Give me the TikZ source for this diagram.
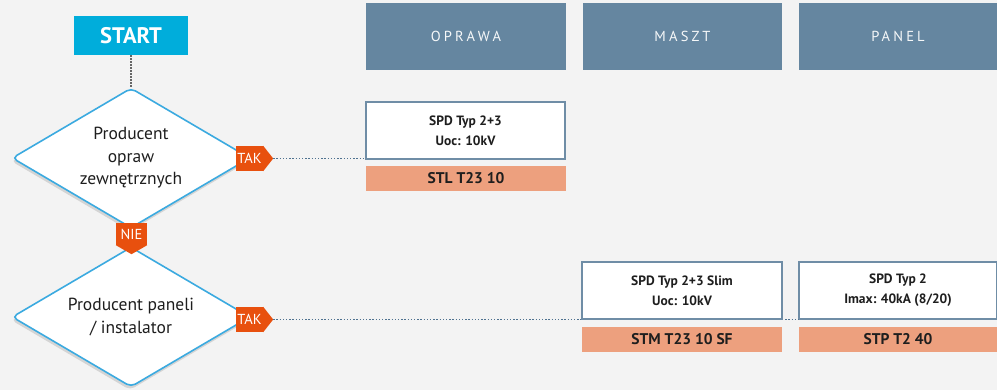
\documentclass[tikz,border=0pt]{standalone}
\usepackage{fontspec}
\setmainfont{PT Sans}
\newfontfamily\hdrfont[LetterSpace=22]{PT Sans}
\usetikzlibrary{shapes.geometric}
\definecolor{bg}{HTML}{F3F3F3}
\definecolor{hdrc}{HTML}{6586A0}
\definecolor{startc}{HTML}{00ADDB}
\definecolor{dstroke}{HTML}{3BAAE0}
\definecolor{tagc}{HTML}{E8500E}
\definecolor{barc}{HTML}{EDA07E}
\definecolor{boxc}{HTML}{6F8DA6}
\definecolor{dotc}{HTML}{4F7290}
\definecolor{txt}{HTML}{1E1E1E}
\tikzset{
  hdr/.style={fill=hdrc, minimum height=67pt, inner sep=0pt, text=white!94!hdrc, font=\hdrfont\fontsize{14.5}{16}\selectfont},
  startbox/.style={fill=startc, minimum width=114pt, minimum height=39pt, inner sep=0pt, text=white, font=\bfseries\fontsize{22.5}{24}\selectfont},
  dia/.style={diamond, aspect=1.7, minimum width=238pt, minimum height=140pt, inner sep=0pt, rounded corners=5pt, align=center, text=txt, font=\fontsize{17.5}{22.5}\selectfont},
  diashadow/.style={diamond, aspect=1.7, minimum width=238pt, minimum height=140pt, inner sep=0pt, rounded corners=5pt, fill=black!17},
  infobox/.style={draw=boxc, line width=1.5pt, fill=white, minimum height=57pt, inner sep=0pt, align=center, text=txt, font=\bfseries\fontsize{13.5}{20}\selectfont},
  bar/.style={fill=barc, minimum height=25pt, inner sep=0pt, text=txt, font=\bfseries\fontsize{15.5}{16}\selectfont},
  tagbox/.style={fill=tagc, inner sep=0pt, text=white, font=\fontsize{14.5}{15}\selectfont},
  dotline/.style={dotc, line width=1.6pt, dash pattern=on 1.4pt off 1.8pt},
  graydot/.style={black!60, line width=1.5pt, dash pattern=on 1.4pt off 1.6pt}
}
\begin{document}
\begin{tikzpicture}[x=1pt,y=-1pt]
\useasboundingbox[fill=bg] (0,0) rectangle (997,390);

% headers
\node[hdr, minimum width=200pt] (hOprawa) at (466,36.5) {OPRAWA};
\node[hdr, minimum width=199pt] (hMaszt) at (682.5,36.5) {MASZT};
\node[hdr, minimum width=198pt] (hPanel) at (898,36.5) {PANEL};

% start
\node[startbox] (start) at (131,35.5) {START};

% diamonds
\node[diashadow] (d1s) at (130,161) {};
\node[diashadow] (d2s) at (130,320) {};
\node[dia, draw=dstroke, line width=1.6pt, fill=white] (d1) at (131,158) {Producent\\opraw\\zewnętrznych};
\node[dia, draw=dstroke, line width=1.6pt, fill=white] (d2) at (131,317) {Producent paneli\\/ instalator};

\draw[graydot] (start.south) -- (d1.north);

% tags
\node[tagbox, minimum width=27pt, minimum height=25pt] (tak1) at (249.5,158.5) {TAK};
\coordinate (tak1tip) at ([xshift=10pt]tak1.east);
\node[tagbox, minimum width=27pt, minimum height=25pt] (tak2) at (249.5,319.5) {TAK};
\coordinate (tak2tip) at ([xshift=10pt]tak2.east);
\fill[tagc] (tak1.north east) -- (tak1tip) -- (tak1.south east) -- cycle;
\fill[tagc] (tak2.north east) -- (tak2tip) -- (tak2.south east) -- cycle;
\node[tagbox, minimum width=31pt, minimum height=22pt] (nie) at (131.5,234) {NIE};
\coordinate (nietip) at ([yshift=-9pt]nie.south);
\fill[tagc] (nie.south west) -- (nietip) -- (nie.south east) -- cycle;

% boxes
\node[infobox, minimum width=199pt] (box1) at (465.5,130.5) {SPD Typ 2+3\\Uoc: 10kV};
\node[bar, minimum width=200pt] (bar1) at (466,178.5) {STL T23 10};
\node[infobox, minimum width=198pt] (box3) at (898,290.5) {SPD Typ 2\\Imax: 40kA (8/20)};
\draw[dotline] (tak1tip) -- (tak1tip -| box1.west);
\draw[dotline] (tak2tip) -- (tak2tip -| box3.west);
\node[infobox, minimum width=200pt] (box2) at (682,290.5) {SPD Typ 2+3 Slim\\Uoc: 10kV};
\node[bar, minimum width=200pt] (bar2) at (682,339.5) {STM T23 10 SF};
\node[bar, minimum width=198pt] (bar3) at (898,339.5) {STP T2 40};
\end{tikzpicture}
\end{document}
